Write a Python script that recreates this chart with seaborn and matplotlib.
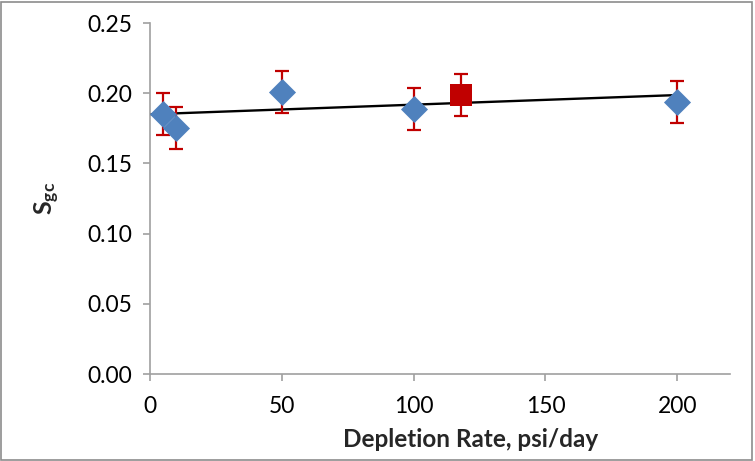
import numpy as np
import pandas as pd
import matplotlib
matplotlib.use("Agg")
import matplotlib.pyplot as plt
import seaborn as sns
from matplotlib.patches import Rectangle

# data
rate_blue = [5, 10, 50, 100, 200]
sgc_blue = [0.185, 0.175, 0.201, 0.189, 0.194]
rate_red = [118]
sgc_red = [0.199]
err = 0.015
x_ticks = [0, 50, 100, 150, 200]
y_ticks = [0.00, 0.05, 0.10, 0.15, 0.20, 0.25]

sns.set_theme(style="white")
plt.rcParams['font.family'] = ['Lato', 'DejaVu Sans']
plt.rcParams['mathtext.fontset'] = 'custom'
plt.rcParams['mathtext.rm'] = 'Lato:bold'
plt.rcParams['mathtext.it'] = 'Lato:bold'
plt.rcParams['mathtext.bf'] = 'Lato:bold'

fig = plt.figure(figsize=(7.55, 4.61), dpi=100)
ax = fig.add_axes([150/755, (461-374)/461, (730-150)/755, (374-23)/461])

# trendline through all points
all_x = np.array(rate_blue + rate_red)
all_y = np.array(sgc_blue + sgc_red)
slope, icpt = np.polyfit(all_x, all_y, 1)
tx = np.array([0, 200])
ax.plot(tx, icpt + slope * tx, color='black', lw=1.7, zorder=2)

red = '#C00000'
ax.errorbar(rate_blue, sgc_blue, yerr=err, fmt='none', ecolor=red,
            elinewidth=1.6, capsize=5, capthick=1.6, zorder=3)
ax.errorbar(rate_red, sgc_red, yerr=err, fmt='none', ecolor=red,
            elinewidth=1.6, capsize=5, capthick=1.6, zorder=3)

df_b = pd.DataFrame({'x': rate_blue, 'y': sgc_blue})
df_r = pd.DataFrame({'x': rate_red, 'y': sgc_red})
sns.scatterplot(data=df_b, x='x', y='y', marker='D', s=190, color='#4F81BD',
                edgecolor='#4F81BD', linewidth=0, ax=ax, zorder=4)
sns.scatterplot(data=df_r, x='x', y='y', marker='s', s=240, color=red,
                edgecolor=red, linewidth=0, ax=ax, zorder=4)

ax.set_xlim(0, 220)
ax.set_ylim(0, 0.25)
ax.set_xticks(x_ticks)
ax.set_yticks(y_ticks)
ax.set_yticklabels([f"{v:.2f}" for v in y_ticks])
ax.tick_params(axis='both', labelsize=16.5, colors='black', length=5, width=1.2,
               direction='out', color='#A0A0A0', bottom=True, left=True)
ax.tick_params(axis='x', pad=11)
ax.tick_params(axis='y', pad=8)
for s in ['top', 'right']:
    ax.spines[s].set_visible(False)
for s in ['left', 'bottom']:
    ax.spines[s].set_color('#A0A0A0')
    ax.spines[s].set_linewidth(1.2)

ax.set_xlabel('Depletion Rate, psi/day', fontsize=17.5, fontweight='bold', labelpad=9)
ax.xaxis.set_label_coords(0.553, -0.155)
ax.set_ylabel(r'S$_{\mathregular{gc}}$', fontsize=18, fontweight='bold', labelpad=18)

fig.add_artist(Rectangle((1/755, 1/461), 751/755, 458/461, transform=fig.transFigure,
                         fill=False, edgecolor='#8C8C8C', lw=1.2))

fig.savefig('out.png', dpi=100)
